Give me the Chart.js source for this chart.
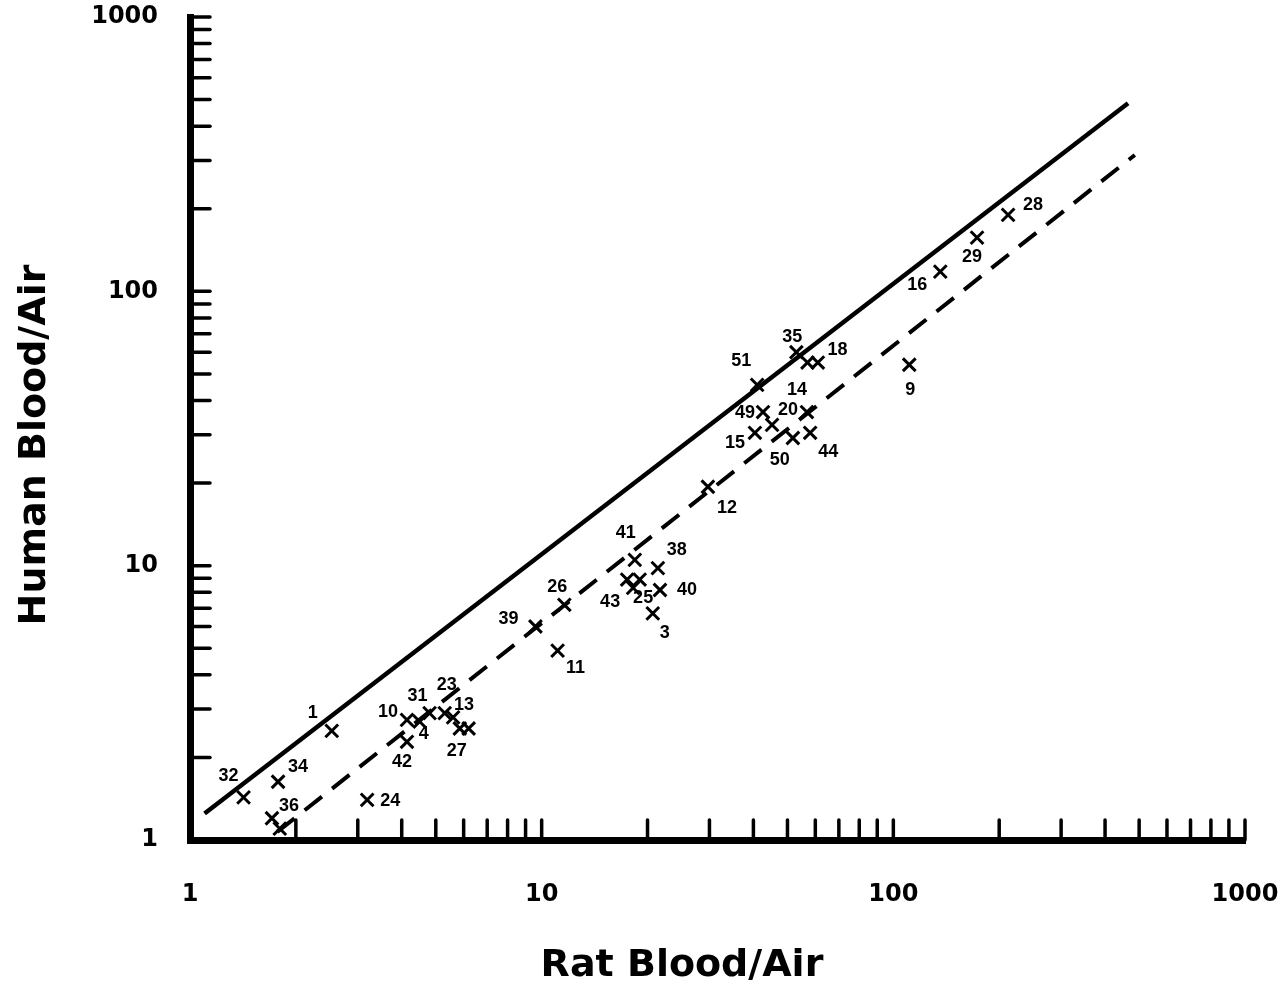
<!DOCTYPE html>
<html>
<head>
<meta charset="utf-8">
<script src="https://cdn.jsdelivr.net/npm/chart.js@4.4.1/dist/chart.umd.min.js"></script>
<style>
  body { margin: 0; background: #fff; }
  canvas { display: block; }
</style>
</head>
<body>
<canvas id="bloodChart" width="1283" height="987"></canvas>
<script>
// compound numbers (blank = unlabelled extra mark) and blood/air values
const compoundIds = ['32', '34', '36', '', '1', '24', '10', '42', '4', '31', '23', '13', '27', '',
    '39', '26', '11', '41', '38', '43', '', '25', '40', '3', '12',
    '51', '35', '18', '', '14', '49', '20', '15', '50', '44', '16', '29', '28', '9'];
const ratBloodAir = [1.42, 1.78, 1.71, 1.80, 2.53, 3.19, 4.14, 4.14, 4.5, 4.8, 5.3, 5.6, 5.85, 6.2,
    9.6, 11.6, 11.1, 18.4, 21.4, 17.5, 19.0, 18.2, 21.7, 20.7, 29.7,
    41, 53, 57, 61, 56.8, 42.6, 45.2, 40.4, 51.8, 58, 136, 173, 212, 111];
const humanBloodAir = [1.43, 1.63, 1.20, 1.10, 2.50, 1.40, 2.74, 2.28, 2.7, 2.9, 2.9, 2.8, 2.55, 2.55,
    6.0, 7.2, 4.9, 10.5, 9.8, 8.9, 8.9, 8.3, 8.15, 6.7, 19.4,
    45.6, 60, 55, 55, 36.3, 36.3, 32.6, 30.5, 29.2, 30.5, 118, 157, 190, 54];

// solid and dashed reference lines (end points)
const solidLineX = [1.1, 465];
const solidLineY = [1.25, 485];
const dashedLineX = [1.77, 486];
const dashedLineY = [1.07, 314];

const tickValues = [1, 2, 3, 4, 5, 6, 7, 8, 9, 10, 20, 30, 40, 50, 60, 70, 80, 90,
    100, 200, 300, 400, 500, 600, 700, 800, 900, 1000];
const tickLabels = ['1', '10', '100', '1000'];

// where each number sits relative to its X (pixels)
const labelOffsets = [[-15, -21], [20, -15], [17, -12], [0, 0], [-19, -18], [23, 1], [-19, -8], [-5, 20],
    [4, 12], [-12, -17], [2, -28], [11, -12], [-3, 23], [0, 0],
    [-27, -7], [-7, -18], [18, 17], [-9, -27], [19, -18], [-17, 22], [0, 0], [10, 10], [27, 0], [12, 20], [19, 21],
    [-16, -24], [-4, -15], [30, -13], [0, 0], [-10, -22], [-18, 1], [16, -15], [-20, 10], [-13, 22], [18, 19],
    [-23, 13], [-5, 19], [25, -10], [1, 25]];

const inwardTicks = {
    id: 'inwardTicks',
    afterDatasetsDraw(chart) {
        const { ctx, chartArea, scales } = chart;
        ctx.save();
        ctx.strokeStyle = '#000';
        ctx.lineWidth = 3.5;
        ctx.lineCap = 'round';
        scales.x.ticks.forEach(t => {
            if (t.value === 1) return;
            const px = scales.x.getPixelForValue(t.value);
            ctx.beginPath();
            ctx.moveTo(px, chartArea.bottom);
            ctx.lineTo(px, chartArea.bottom - 20);
            ctx.stroke();
        });
        scales.y.ticks.forEach(t => {
            if (t.value === 1) return;
            const py = scales.y.getPixelForValue(t.value);
            ctx.beginPath();
            ctx.moveTo(chartArea.left, py);
            ctx.lineTo(chartArea.left + 20, py);
            ctx.stroke();
        });
        ctx.restore();
    }
};

const pointNumbers = {
    id: 'pointNumbers',
    afterDatasetsDraw(chart) {
        const ctx = chart.ctx;
        const meta = chart.getDatasetMeta(2);
        ctx.save();
        ctx.fillStyle = '#000';
        ctx.font = 'bold 18px "Liberation Sans", Arial, sans-serif';
        ctx.textAlign = 'center';
        ctx.textBaseline = 'middle';
        meta.data.forEach((pt, i) => {
            if (!compoundIds[i]) return;
            const off = labelOffsets[i];
            ctx.fillText(compoundIds[i], pt.x + off[0], pt.y + off[1]);
        });
        ctx.restore();
    }
};

const axisTitles = {
    id: 'axisTitles',
    afterDraw(chart) {
        const ctx = chart.ctx;
        ctx.save();
        ctx.fillStyle = '#000';
        ctx.font = 'bold 38px "DejaVu Sans", Verdana, sans-serif';
        ctx.textAlign = 'center';
        ctx.textBaseline = 'middle';
        ctx.fillText('Rat Blood/Air', 682, 966);
        ctx.translate(35, 445);
        ctx.rotate(-Math.PI / 2);
        ctx.fillText('Human Blood/Air', 0, 0);
        ctx.restore();
    }
};

const tickFont = { family: '"DejaVu Sans", Verdana, sans-serif', size: 24, weight: 'bold' };

function setTicks(scale) {
    scale.ticks = tickValues.map(v => ({ value: v }));
}

function tickText(value) {
    const lbl = String(value);
    return tickLabels.includes(lbl) ? lbl : '';
}

const ctx = document.getElementById('bloodChart').getContext('2d');

new Chart(ctx, {
    type: 'scatter',
    data: {
        datasets: [{
            type: 'line',
            data: solidLineX.map((x, i) => ({ x: x, y: solidLineY[i] })),
            borderColor: '#000',
            borderWidth: 4.5,
            pointRadius: 0,
            fill: false
        }, {
            type: 'line',
            data: dashedLineX.map((x, i) => ({ x: x, y: dashedLineY[i] })),
            borderColor: '#000',
            borderWidth: 4,
            borderDash: [22, 13],
            pointRadius: 0,
            fill: false
        }, {
            data: compoundIds.map((id, i) => ({ x: ratBloodAir[i], y: humanBloodAir[i] })),
            pointStyle: 'crossRot',
            pointRadius: 9,
            borderColor: '#000',
            borderWidth: 3,
            backgroundColor: '#000'
        }]
    },
    options: {
        responsive: false,
        animation: false,
        clip: false,
        layout: { padding: { top: 17, right: 38, left: 0, bottom: 0 } },
        plugins: {
            legend: { display: false },
            tooltip: { enabled: false }
        },
        scales: {
            x: {
                type: 'logarithmic',
                min: 1,
                max: 1000,
                afterBuildTicks: setTicks,
                afterFit(scale) {
                    scale.height = 147;
                    scale.paddingLeft = 0;
                    scale.paddingRight = 0;
                },
                grid: { display: false, drawTicks: false },
                border: { display: true, color: '#000', width: 7 },
                ticks: {
                    color: '#000',
                    font: tickFont,
                    padding: 40,
                    autoSkip: false,
                    maxRotation: 0,
                    callback: tickText
                }
            },
            y: {
                type: 'logarithmic',
                min: 1,
                max: 1000,
                afterBuildTicks: setTicks,
                afterFit(scale) {
                    scale.width = 190;
                    scale.paddingTop = 0;
                    scale.paddingBottom = 0;
                },
                grid: { display: false, drawTicks: false },
                border: { display: true, color: '#000', width: 7 },
                ticks: {
                    color: '#000',
                    font: tickFont,
                    padding: 32,
                    autoSkip: false,
                    callback: tickText
                }
            }
        }
    },
    plugins: [inwardTicks, pointNumbers, axisTitles]
});
</script>
</body>
</html>
